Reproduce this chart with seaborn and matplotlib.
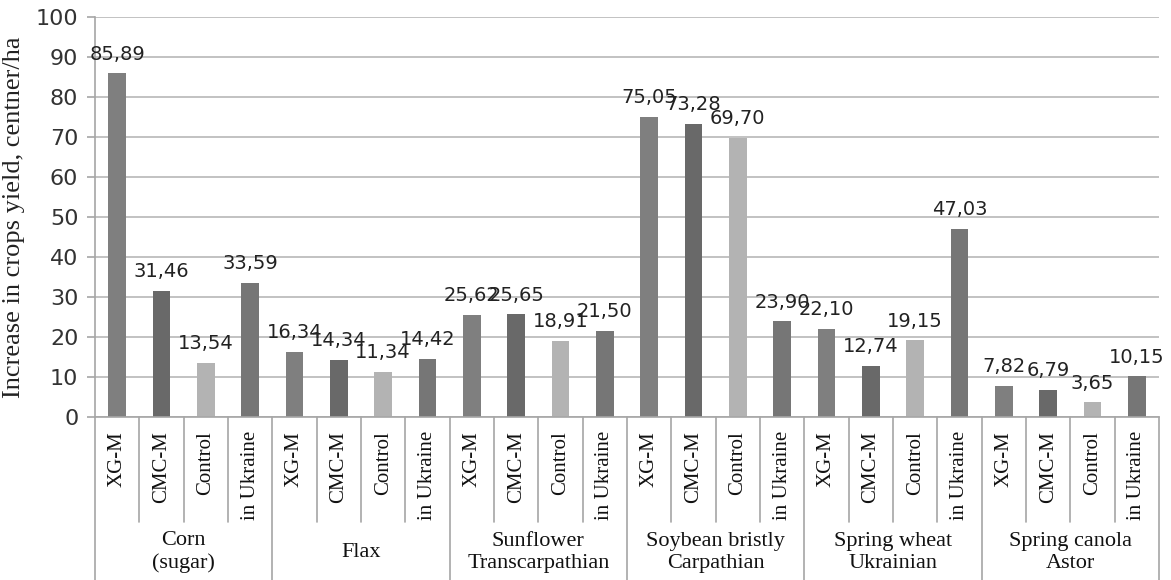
import numpy as np
import pandas as pd
import matplotlib
matplotlib.use("Agg")
import matplotlib.pyplot as plt
import seaborn as sns

# crops (group labels) and treatments (tick labels)
crops = ["Corn\n(sugar)", "Flax", "Sunflower\nTranscarpathian",
         "Soybean bristly\nCarpathian", "Spring wheat\nUkrainian",
         "Spring canola\nAstor"]
treatments = ["XG-M", "CMC-M", "Control", "in Ukraine"]

xg_m = [85.89, 16.34, 25.62, 75.05, 22.10, 7.82]
cmc_m = [31.46, 14.34, 25.65, 73.28, 12.74, 6.79]
control = [13.54, 11.34, 18.91, 69.70, 19.15, 3.65]
in_ukraine = [33.59, 14.42, 21.50, 23.90, 47.03, 10.15]

colors = {"XG-M": "#7f7f7f", "CMC-M": "#696969",
          "Control": "#b3b3b3", "in Ukraine": "#767676"}

rows = []
for i, crop in enumerate(crops):
    for t, vals in zip(treatments, [xg_m, cmc_m, control, in_ukraine]):
        rows.append({"slot": f"{i}|{t}", "crop": crop, "treatment": t, "value": vals[i]})
df = pd.DataFrame(rows)

sns.set_theme(style="white")
plt.rcParams["font.family"] = ["DejaVu Sans"]
serif = ["Liberation Serif", "DejaVu Serif"]

fig = plt.figure(figsize=(11.71, 5.8), dpi=100)
ax = fig.add_axes([95 / 1171, 1 - 417 / 580, 1064 / 1171, 400 / 580])

sns.barplot(data=df, x="slot", y="value", hue="treatment", order=list(df["slot"]),
            palette=colors, dodge=False, width=0.4, legend=False, ax=ax,
            saturation=1, edgecolor="none")

ax.set_ylim(0, 100)
ax.set_xlim(-0.5, len(df) - 0.5)
ax.set_yticks(np.arange(0, 101, 10))
ax.yaxis.grid(True, color="#bdbdbd", linewidth=1.3)
ax.set_axisbelow(True)
for s in ["top", "right"]:
    ax.spines[s].set_visible(False)
for s in ["left", "bottom"]:
    ax.spines[s].set_color("#a6a6a6")
    ax.spines[s].set_linewidth(1.2)

ax.tick_params(axis="y", which="major", left=True, length=6, width=1.2,
               color="#a6a6a6", pad=6, labelsize=16, labelcolor="#333333")
ax.tick_params(axis="x", length=0, pad=10)
ax.set_xticks(range(len(df)))
ax.set_xticklabels(df["treatment"], rotation=90, va="top", fontsize=15,
                   family=serif, color="#111111")

ax.set_xlabel("")
ax.set_ylabel("Increase in crops yield, centner/ha", family=serif, fontsize=19,
              color="#222222")
ax.yaxis.set_label_coords(-0.066, 0.5)

# value labels
for i, v in enumerate(df["value"]):
    ax.annotate(f"{v:.2f}".replace(".", ","), (i, v), xytext=(0, 10),
                textcoords="offset points", ha="center", va="baseline",
                fontsize=14, color="#222222")

# category separators below the axis
trans = ax.get_xaxis_transform()
for k in range(len(df) + 1):
    full = k % 4 == 0
    y_end = -0.4075 if full else -0.2625
    ax.plot([k - 0.5, k - 0.5], [0, y_end], transform=trans, clip_on=False,
            color="#a6a6a6", linewidth=1.2)

for g, crop in enumerate(crops):
    ax.text(4 * g + 1.5, -0.338, crop, transform=trans, ha="center", va="center",
            fontsize=16, family=serif, linespacing=1.2, color="#111111")

fig.savefig("out.png", dpi=100)
